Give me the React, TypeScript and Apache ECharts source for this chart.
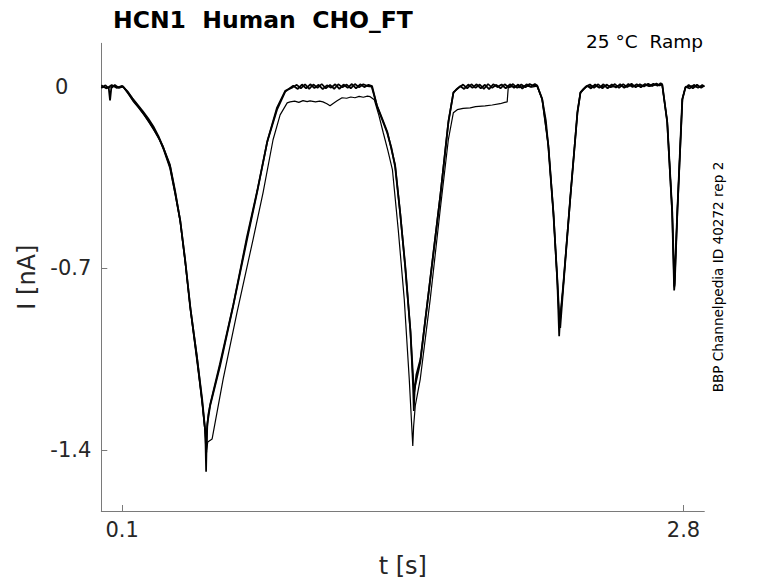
import React, { useEffect, useRef } from "react";
import * as echarts from "echarts";

const FONT = "DejaVu Sans";

const xTicks = [0.1, 2.8];
const yTicks = [0, -0.7, -1.4];

const titleText = "HCN1  Human  CHO_FT";
const conditionText = "25 °C  Ramp";
const sourceText = "BBP Channelpedia ID 40272 rep 2";

// [t (s), I (nA)]
const traceA = [
  [0.000,-0.004],[0.020,0.006],[0.036,-0.006],[0.042,-0.052],[0.048,-0.005],[0.065,0.007],[0.085,-0.004],[0.104,0.002],
  [0.128,-0.022],[0.152,-0.050],[0.176,-0.074],[0.200,-0.100],[0.225,-0.128],[0.249,-0.158],[0.273,-0.192],[0.297,-0.231],
  [0.331,-0.308],[0.355,-0.408],[0.379,-0.512],[0.403,-0.665],[0.427,-0.846],[0.461,-1.050],[0.485,-1.204],[0.499,-1.319],
  [0.505,-1.410],[0.510,-1.300],[0.523,-1.231],[0.571,-1.077],[0.634,-0.846],[0.701,-0.588],[0.749,-0.408],[0.797,-0.215],
  [0.845,-0.088],[0.884,-0.019],[0.905,-0.006],[0.923,0.004],
  [0.945,-0.008],[0.965,0.009],[0.985,-0.006],[1.005,0.010],[1.025,-0.005],[1.045,0.008],[1.065,-0.009],[1.085,0.006],
  [1.105,-0.003],[1.125,0.010],[1.145,-0.008],[1.165,0.009],[1.185,-0.004],[1.205,0.011],[1.225,-0.006],[1.245,0.010],
  [1.265,-0.001],[1.285,0.008],[1.302,0.003],
  [1.327,-0.077],[1.350,-0.125],[1.375,-0.177],[1.395,-0.235],[1.413,-0.308],[1.437,-0.485],[1.462,-0.692],[1.486,-0.935],
  [1.500,-1.127],[1.504,-1.180],[1.510,-1.150],[1.534,-1.062],[1.582,-0.742],[1.630,-0.423],[1.669,-0.138],[1.693,-0.023],
  [1.710,-0.008],[1.726,0.003],
  [1.745,-0.008],[1.765,0.009],[1.785,-0.004],[1.805,0.010],[1.825,-0.006],[1.845,0.008],[1.865,-0.009],[1.885,0.010],
  [1.905,-0.001],[1.925,0.009],[1.945,-0.006],[1.965,0.010],[1.985,-0.004],[2.005,0.009],[2.025,-0.007],[2.045,0.010],
  [2.065,0.000],[2.085,0.011],[2.097,0.004],
  [2.121,-0.050],[2.138,-0.130],[2.150,-0.231],[2.174,-0.485],[2.193,-0.742],[2.203,-0.896],[2.207,-0.930],[2.222,-0.769],
  [2.256,-0.423],[2.290,-0.100],[2.304,-0.023],[2.320,-0.008],[2.337,0.004],
  [2.355,-0.006],[2.375,0.009],[2.395,-0.004],[2.415,0.010],[2.435,-0.006],[2.455,0.009],[2.475,-0.003],[2.495,0.010],
  [2.515,-0.004],[2.535,0.011],[2.555,-0.001],[2.575,0.010],[2.595,-0.002],[2.615,0.011],[2.635,0.002],[2.655,0.012],
  [2.675,0.004],[2.690,0.014],[2.698,0.009],
  [2.722,-0.138],[2.746,-0.485],[2.756,-0.770],[2.770,-0.485],[2.794,-0.050],[2.809,-0.004],[2.825,0.007],[2.845,-0.006],
  [2.865,0.008],[2.885,-0.004],[2.900,0.005],
];

const traceB = [
  [0.000,0.006],[0.025,-0.006],[0.050,0.007],[0.075,-0.004],[0.100,0.004],[0.125,-0.016],[0.150,-0.044],[0.175,-0.069],
  [0.200,-0.094],[0.225,-0.121],[0.250,-0.152],[0.275,-0.190],[0.300,-0.238],[0.330,-0.300],[0.355,-0.400],[0.380,-0.518],
  [0.405,-0.682],[0.430,-0.862],[0.460,-1.040],[0.485,-1.215],[0.500,-1.330],[0.504,-1.485],[0.508,-1.320],[0.515,-1.262],
  [0.525,-1.220],[0.570,-1.070],[0.635,-0.840],[0.700,-0.580],[0.750,-0.400],[0.800,-0.205],[0.845,-0.080],[0.885,-0.015],
  [0.920,-0.002],
  [0.940,0.008],[0.960,-0.006],[0.980,0.010],[1.000,-0.008],[1.020,0.009],[1.040,-0.004],[1.060,0.011],[1.080,-0.006],
  [1.100,0.008],[1.120,-0.008],[1.140,0.010],[1.160,-0.002],[1.180,0.009],[1.200,-0.006],[1.220,0.011],[1.240,-0.002],
  [1.260,0.010],[1.280,0.003],[1.300,0.001],
  [1.325,-0.070],[1.350,-0.120],[1.375,-0.172],[1.413,-0.300],[1.438,-0.490],[1.462,-0.700],[1.487,-0.945],[1.499,-1.150],
  [1.503,-1.250],[1.507,-1.170],[1.515,-1.110],[1.535,-1.050],[1.583,-0.735],[1.631,-0.415],[1.670,-0.130],[1.694,-0.020],
  [1.720,-0.003],
  [1.740,0.009],[1.760,-0.006],[1.780,0.010],[1.800,-0.004],[1.820,0.009],[1.840,-0.008],[1.860,0.011],[1.880,-0.004],
  [1.900,0.008],[1.920,-0.006],[1.940,0.010],[1.960,-0.002],[1.980,0.011],[2.000,-0.004],[2.020,0.009],[2.040,-0.002],
  [2.060,0.011],[2.080,0.003],[2.095,0.006],
  [2.120,-0.045],[2.150,-0.225],[2.175,-0.490],[2.193,-0.750],[2.202,-0.962],[2.206,-0.900],[2.222,-0.760],[2.257,-0.415],
  [2.290,-0.095],[2.305,-0.020],[2.330,0.001],
  [2.350,0.009],[2.370,-0.004],[2.390,0.010],[2.410,-0.006],[2.430,0.009],[2.450,-0.002],[2.470,0.011],[2.490,-0.004],
  [2.510,0.010],[2.530,-0.001],[2.550,0.012],[2.570,-0.002],[2.590,0.010],[2.610,0.001],[2.630,0.012],[2.650,0.003],
  [2.670,0.013],[2.685,0.005],[2.697,0.011],
  [2.721,-0.130],[2.745,-0.480],[2.755,-0.785],[2.758,-0.760],[2.771,-0.475],[2.795,-0.045],[2.810,0.001],[2.830,-0.006],
  [2.850,0.008],[2.870,-0.004],[2.890,0.007],[2.900,0.001],
];

const traceC = [
  [0.000,0.001],[0.030,-0.004],[0.060,0.003],[0.090,-0.002],[0.105,0.000],[0.130,-0.028],[0.155,-0.058],[0.180,-0.082],
  [0.205,-0.108],[0.230,-0.138],[0.255,-0.170],[0.280,-0.205],[0.300,-0.245],[0.330,-0.315],[0.355,-0.415],[0.380,-0.525],
  [0.405,-0.690],[0.430,-0.870],[0.460,-1.060],[0.485,-1.220],[0.500,-1.340],[0.506,-1.400],[0.512,-1.370],[0.533,-1.358],
  [0.586,-1.127],[0.653,-0.869],[0.730,-0.588],[0.778,-0.408],[0.826,-0.204],[0.860,-0.108],[0.894,-0.062],[0.908,-0.058],
  [0.930,-0.055],[0.950,-0.060],[0.970,-0.053],[0.990,-0.057],[1.004,-0.054],[1.030,-0.058],[1.050,-0.055],[1.066,-0.058],
  [1.085,-0.065],[1.100,-0.073],[1.115,-0.064],[1.134,-0.054],[1.158,-0.042],[1.180,-0.044],[1.200,-0.039],[1.220,-0.042],
  [1.240,-0.037],[1.260,-0.040],[1.280,-0.036],[1.293,-0.038],
  [1.313,-0.050],[1.335,-0.110],[1.356,-0.177],[1.378,-0.245],[1.400,-0.319],[1.428,-0.550],[1.457,-0.819],[1.481,-1.127],
  [1.498,-1.385],[1.502,-1.310],[1.510,-1.230],[1.534,-1.127],[1.582,-0.819],[1.630,-0.473],[1.669,-0.204],[1.693,-0.100],
  [1.712,-0.088],
  [1.740,-0.083],[1.774,-0.081],[1.800,-0.076],[1.846,-0.073],[1.880,-0.070],[1.918,-0.065],[1.940,-0.060],[1.952,-0.058],
  [1.957,-0.004],[1.980,0.003],[2.010,-0.003],[2.040,0.005],[2.070,-0.001],[2.095,0.003],
  [2.120,-0.048],[2.150,-0.228],[2.174,-0.488],[2.193,-0.745],[2.204,-0.910],[2.222,-0.765],[2.256,-0.420],[2.290,-0.098],
  [2.304,-0.022],[2.335,0.001],
  [2.370,0.004],[2.400,-0.002],[2.430,0.006],[2.460,0.000],[2.490,0.005],[2.520,-0.001],[2.550,0.006],[2.580,0.002],
  [2.610,0.007],[2.640,0.003],[2.670,0.008],[2.697,0.008],
  [2.722,-0.135],[2.746,-0.482],[2.756,-0.775],[2.770,-0.480],[2.794,-0.048],[2.809,-0.002],[2.840,0.004],[2.870,-0.002],
  [2.900,0.003],
];

const traces = [
  { name: "sweep 1", data: traceA, width: 1.8 },
  { name: "sweep 2", data: traceB, width: 1.7 },
  { name: "sweep 3", data: traceC, width: 1.2 },
];

export default function App() {
  const ref = useRef<HTMLDivElement>(null);

  useEffect(() => {
    if (!ref.current) return;
    const chart = echarts.init(ref.current, null, { renderer: "svg" });
    const axisColor = "#7a7a7a";
    const labelColor = "#262626";
    chart.setOption({
      animation: false,
      backgroundColor: "#ffffff",
      color: ["#000000"],
      title: {
        text: titleText,
        left: 108,
        top: 3,
        textStyle: { fontFamily: FONT, fontWeight: "bold", fontSize: 23.5, color: "#000" },
      },
      grid: { left: 101.3, right: 73.7, top: 43.3, bottom: 70.7, containLabel: false },
      xAxis: {
        type: "value",
        min: 0,
        max: 2.9,
        name: "t [s]",
        nameLocation: "middle",
        nameGap: 43,
        nameTextStyle: { fontFamily: FONT, fontSize: 24, color: labelColor },
        axisLine: { show: true, onZero: false, lineStyle: { color: axisColor, width: 1 } },
        axisTick: { show: true, inside: true, length: 6, customValues: xTicks, lineStyle: { color: axisColor } },
        axisLabel: { customValues: xTicks, fontFamily: FONT, fontSize: 21, color: labelColor, margin: 8 },
        splitLine: { show: false },
      },
      yAxis: {
        type: "value",
        min: -1.636,
        max: 0.168,
        name: "I [nA]",
        nameLocation: "middle",
        nameGap: 62,
        nameRotate: 90,
        nameTextStyle: { fontFamily: FONT, fontSize: 24, color: labelColor },
        axisLine: { show: true, onZero: false, lineStyle: { color: axisColor, width: 1 } },
        axisTick: { show: true, inside: true, length: 6, customValues: yTicks, lineStyle: { color: axisColor } },
        axisLabel: {
          customValues: yTicks,
          fontFamily: FONT,
          fontSize: 21,
          color: labelColor,
          margin: 10,
          formatter: (v: number) => (v === 0 ? "{z|0}" : String(v)),
          rich: { z: { fontFamily: FONT, fontSize: 21, color: labelColor, padding: [0, 23, 0, 0] } },
        },
        splitLine: { show: false },
      },
      graphic: [
        {
          type: "text",
          x: 703,
          y: 41,
          style: {
            text: conditionText,
            fontFamily: FONT,
            fontSize: 18.5,
            fill: "#000",
            textAlign: "right",
            textVerticalAlign: "middle",
            verticalAlign: "middle",
          },
        },
        {
          type: "text",
          x: 717.5,
          y: 277,
          rotation: Math.PI / 2,
          style: {
            text: sourceText,
            fontFamily: FONT,
            fontSize: 13.6,
            fill: "#000",
            textAlign: "center",
            textVerticalAlign: "middle",
            verticalAlign: "middle",
          },
        },
      ],
      series: traces.map((t) => ({
        name: t.name,
        type: "line",
        data: t.data,
        showSymbol: false,
        symbol: "none",
        silent: true,
        lineStyle: { color: "#000", width: t.width },
        itemStyle: { color: "#000" },
      })),
    });
    return () => chart.dispose();
  }, []);

  return (
    <div
      ref={ref}
      style={{ position: "absolute", left: 0, top: 0, width: 778, height: 583 }}
    />
  );
}
